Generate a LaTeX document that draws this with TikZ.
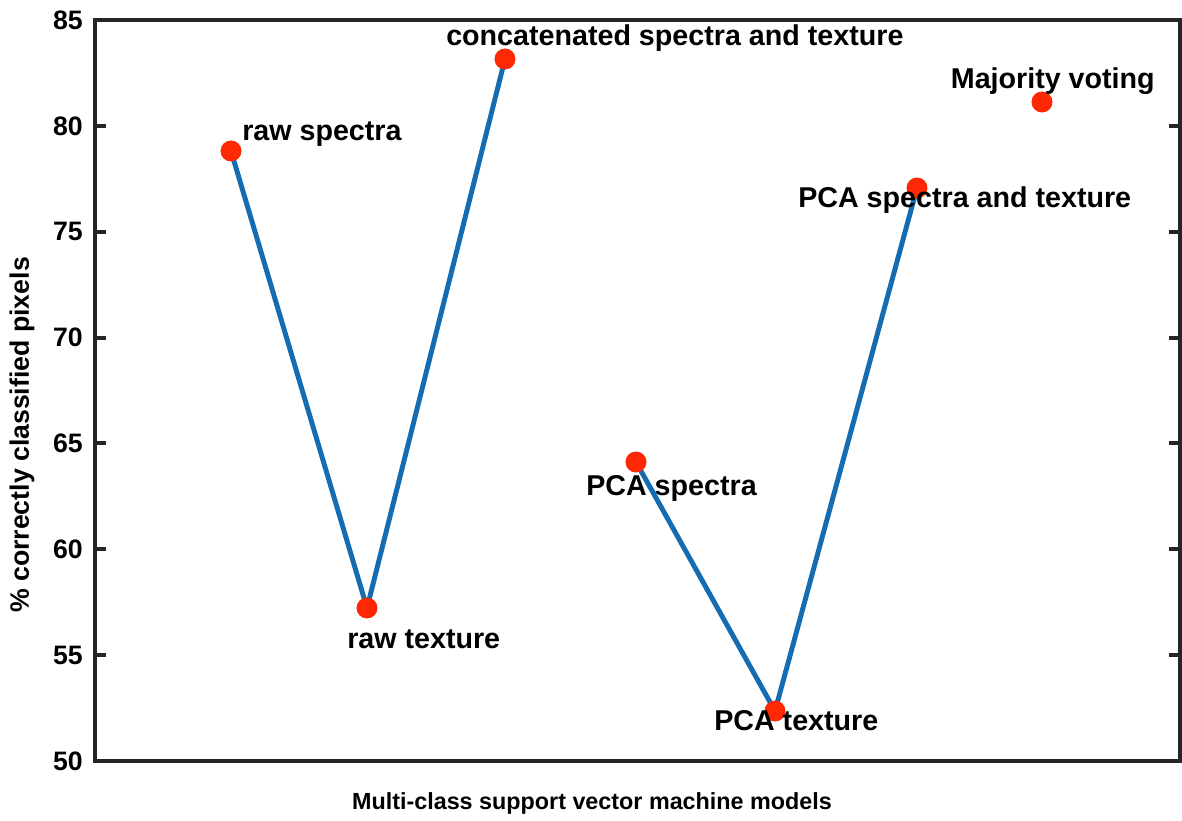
\documentclass[tikz,border=0pt]{standalone}
\usepackage{fontspec}
\setmainfont{Liberation Sans}
\definecolor{mblue}{RGB}{22,108,176}
\definecolor{mred}{RGB}{255,40,5}
\begin{document}
\begin{tikzpicture}[x=0.75pt,y=-0.75pt,
  dot/.style={circle,fill=mred,inner sep=0pt,minimum size=15.5pt},
  conn/.style={mblue,line width=3.7pt},
  lbl/.style={font=\fontsize{21.5}{24}\selectfont\bfseries,inner sep=0pt,anchor=base west},
  ticklbl/.style={font=\fontsize{20}{22}\selectfont\bfseries,inner sep=0pt,anchor=east},
  axlbl/.style={font=\fontsize{17.5}{22}\selectfont\bfseries,inner sep=0pt}]
\useasboundingbox (0,0) rectangle (1182,821);
\fill[white] (0,0) rectangle (1182,821);
% axes box
\draw[line width=3pt,black!85] (95,20) rectangle (1180,761);
% ticks
\foreach \v/\yy in {85/20,80/125.9,75/231.7,70/337.6,65/443.4,60/549.3,55/655.1,50/761}{
  \draw[line width=3pt,black!85] (95,\yy) -- (106,\yy);
  \draw[line width=3pt,black!85] (1180,\yy) -- (1169,\yy);
  \node[ticklbl] (t\v) at (83,\yy) {\v};
}
% data points
\node[dot] (rs) at (231,151) {};
\node[dot] (rt) at (367,608) {};
\node[dot] (cs) at (505,59) {};
\node[dot] (ps) at (636,462) {};
\node[dot] (pt) at (775,711) {};
\node[dot] (pst) at (917,188) {};
\node[dot] (mv) at (1042,102) {};
% connectors
\draw[conn] (rs.center) -- (rt.center) -- (cs.center);
\draw[conn] (ps.center) -- (pt.center) -- (pst.center);
% redraw dots on top
\foreach \n in {rs,rt,cs,ps,pt,pst,mv}{\fill[mred] (\n) circle (7.75pt);}
% labels
\node[lbl] (lrs) at (242,140) {raw spectra};
\node[lbl] (lrt) at (347,648) {raw texture};
\node[lbl] (lcs) at (446,45) {concatenated spectra and texture};
\node[lbl] (lps) at (586,495) {PCA spectra};
\node[lbl] (lpt) at (714,730) {PCA texture};
\node[lbl] (lpst) at (798,207) {PCA spectra and texture};
\node[lbl,anchor=base east] (lmv) at (1155,88) {Majority voting};
% axis labels
\node[axlbl] (xl) at (592,803) {Multi-class support vector machine models};
\node[axlbl,rotate=90,font=\fontsize{20}{22}\selectfont\bfseries] (yl) at (22,435) {\% correctly classified pixels};
\end{tikzpicture}
\end{document}
